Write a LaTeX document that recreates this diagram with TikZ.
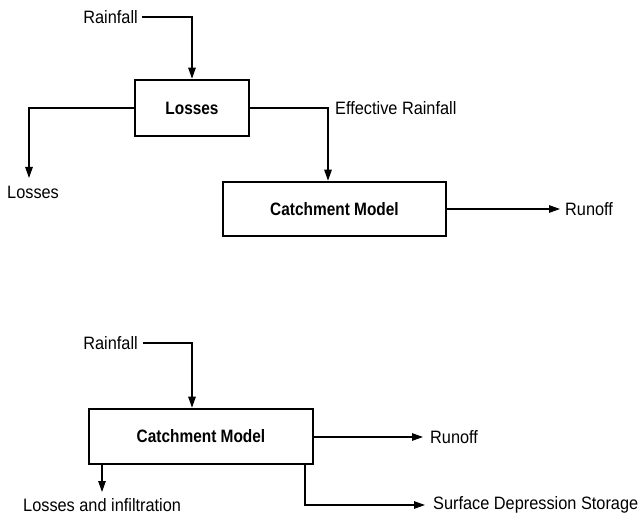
\documentclass[tikz,border=0pt]{standalone}
\usepackage{fontspec}
\setmainfont[FakeStretch=0.91]{Liberation Sans}
\newfontfamily\boxfont[FakeStretch=0.86]{Liberation Sans Bold}
\usetikzlibrary{arrows.meta}
\begin{document}
\begin{tikzpicture}[x=1bp,y=-1bp,
  box/.style={draw,line width=2.6bp,inner sep=0pt,font=\fontsize{18}{20}\boxfont},
  lbl/.style={inner sep=0pt,font=\fontsize{18}{20}\selectfont},
  conn/.style={line width=1.3bp,-{Triangle[length=11bp,width=7.5bp]}}]
\useasboundingbox (0,0) rectangle (639,514);
% top diagram
\node[box,minimum width=114bp,minimum height=56bp] (loss) at (192,108) {Losses};
\node[box,minimum width=223bp,minimum height=54bp] (cm1) at (334.5,209) {Catchment Model};
\node[lbl,anchor=east] (rain1) at (138,17) {Rainfall};
\node[lbl,anchor=west] (lossout) at (7,192) {Losses};
\node[lbl,anchor=west] (eff) at (335,108) {Effective Rainfall};
\node[lbl,anchor=west] (run1) at (565,209) {Runoff};
\coordinate (c1) at (29,178);
\coordinate (c2) at (560,209);
\draw[conn] (rain1.east) ++(4,0) -| (loss.north);
\draw[conn] (loss.west) -| (c1);
\draw[conn] (loss.east) -| (cm1.north -| 328,0);
\draw[conn] (cm1.east) -- (c2);
% bottom diagram
\node[box,minimum width=224bp,minimum height=55bp] (cm2) at (201,436.5) {Catchment Model};
\node[lbl,anchor=east] (rain2) at (138,343) {Rainfall};
\node[lbl,anchor=west] (run2) at (430,437) {Runoff};
\node[lbl,anchor=west] (linf) at (23,505) {Losses and infiltration};
\node[lbl,anchor=west] (sds) at (433,505) {Surface Depression Storage};
\coordinate (c3) at (102,492);
\coordinate (c4) at (425,505);
\coordinate (c5) at (423,437);
\draw[conn] (rain2.east) ++(5,0) -| (cm2.north -| 192,0);
\draw[conn] (cm2.east |- c5) -- (c5);
\draw[conn] (cm2.south -| c3) -- (c3);
\draw[conn] (cm2.south -| 305,0) |- (c4);
\end{tikzpicture}
\end{document}
